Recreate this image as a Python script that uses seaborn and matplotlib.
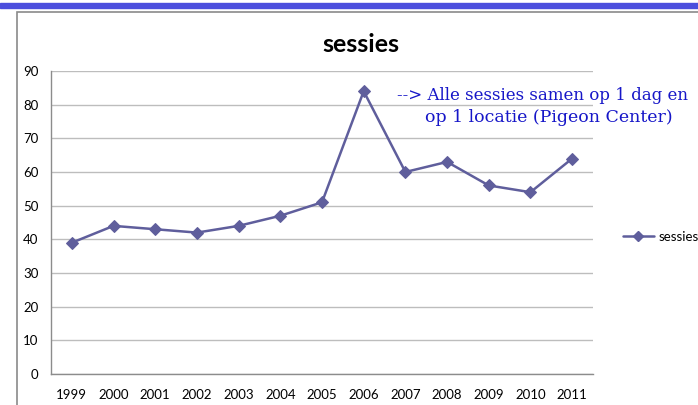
import matplotlib
matplotlib.use("Agg")
import matplotlib.pyplot as plt
import seaborn as sns
import numpy as np
import pandas as pd
from matplotlib.patches import Rectangle
from matplotlib.lines import Line2D

years = ['1999', '2000', '2001', '2002', '2003', '2004', '2005',
         '2006', '2007', '2008', '2009', '2010', '2011']
sessies = [39, 44, 43, 42, 44, 47, 51, 84, 60, 63, 56, 54, 64]
yticks = [0, 10, 20, 30, 40, 50, 60, 70, 80, 90]

W, H = 698, 405
sns.set_style("white")
plt.rcParams['font.family'] = ['Lato', 'DejaVu Sans']
plt.rcParams['text.color'] = 'black'
plt.rcParams['xtick.labelcolor'] = 'black'
plt.rcParams['ytick.labelcolor'] = 'black'

line_col = '#5F5E9C'
grid_col = '#BDBDBD'
axis_col = '#8C8C8C'

fig = plt.figure(figsize=(W / 100, H / 100), dpi=100)

# slide header bar + chart frame
fig.patches.append(Rectangle((0, 1 - 8 / H), 1, 5 / H, transform=fig.transFigure,
                             color='#4B4EDD', zorder=0))
fig.patches.append(Rectangle((16.5 / W, -0.1), 1.2, 1.1 - 12.5 / H, transform=fig.transFigure,
                             facecolor='white', edgecolor='#8A8A8A', lw=1.2, zorder=0))

ax = fig.add_axes([51 / W, 31 / H, (593 - 51) / W, (374 - 71) / H])
ax.set_facecolor('none')
ax.set_zorder(2)

df = pd.DataFrame({'pos': np.arange(len(years)), 'sessies': sessies})
sns.lineplot(data=df, x='pos', y='sessies', ax=ax, color=line_col, lw=1.8,
             marker='D', markersize=6.5, markeredgecolor=line_col, legend=False)

ax.set_xlim(-0.5, len(years) - 0.5)
ax.set_ylim(0, 90)
ax.set_yticks(yticks)
ax.yaxis.grid(True, color=grid_col, lw=1)
ax.set_axisbelow(True)

# category ticks at boundaries, labels at centres
ax.set_xticks(np.arange(-0.5, len(years), 1))
ax.set_xticklabels([])
ax.set_xticks(np.arange(len(years)), minor=True)
ax.set_xticklabels(years, minor=True)
ax.tick_params(axis='x', which='major', length=5, color=axis_col, direction='inout')
ax.tick_params(axis='x', which='minor', length=0, pad=11, labelsize=9.5, labelcolor='black')
ax.tick_params(axis='y', length=4, color=axis_col, labelsize=9.5, pad=5, labelcolor='black')
ax.set_xlabel('')
ax.set_ylabel('')

for s in ['top', 'right']:
    ax.spines[s].set_visible(False)
for s in ['left', 'bottom']:
    ax.spines[s].set_color(axis_col)
    ax.spines[s].set_linewidth(1)

fig.text(360.5 / W, 1 - 45 / H, 'sessies', ha='center', va='center',
         fontsize=18, fontweight='bold', color='black', zorder=3)

fig.text(397 / W, 1 - 95 / H, '--> Alle sessies samen op 1 dag en',
         family='DejaVu Serif', fontsize=12, color='#1616C8', va='center', ha='left', zorder=3)
fig.text(425 / W, 1 - 117 / H, 'op 1 locatie (Pigeon Center)',
         family='DejaVu Serif', fontsize=12.5, color='#1616C8', va='center', ha='left', zorder=3)

handle = Line2D([], [], color=line_col, lw=1.8, marker='D', markersize=5.5)
fig.legend([handle], ['sessies'], loc='center left', bbox_to_anchor=(616 / W, 1 - 237 / H),
           frameon=False, fontsize=9.5, handlelength=2.4, handletextpad=0.3, borderpad=0)

fig.savefig('out.png', dpi=100)
